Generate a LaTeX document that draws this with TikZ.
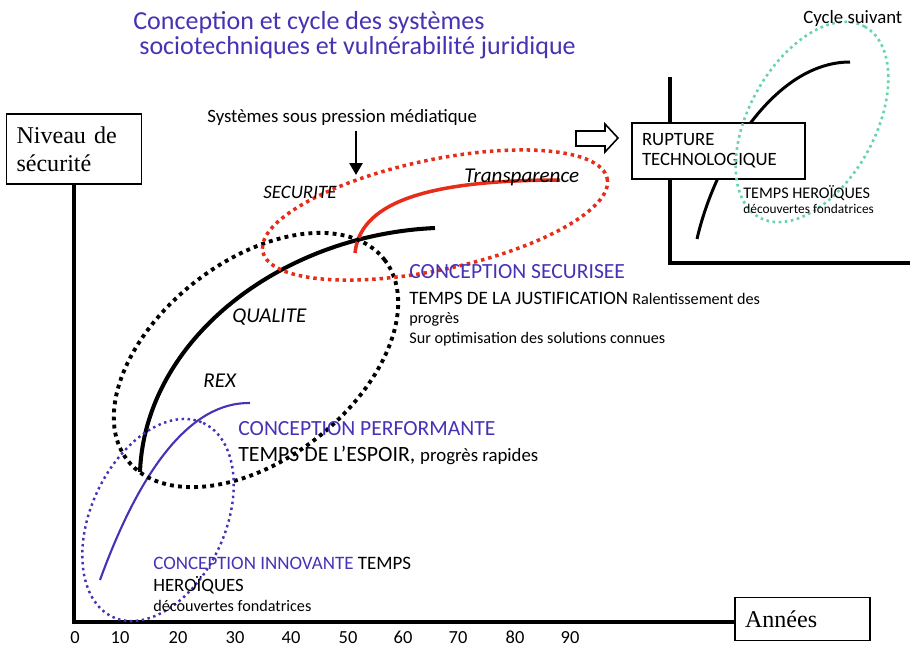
\documentclass[tikz,border=0pt]{standalone}
\usepackage{fontspec}
\setmainfont{Carlito}
\newfontfamily\timesfont{Liberation Serif}
\usepackage{xcolor}
\usetikzlibrary{arrows.meta,shapes,calc,positioning}
\definecolor{bleutitre}{RGB}{70,50,180}
\definecolor{rougevif}{RGB}{230,45,25}
\definecolor{vertclair}{RGB}{105,212,168}
\newcommand{\taille}[1]{\fontsize{#1}{1.2em}\selectfont}

\begin{document}
\begin{tikzpicture}[x=0.02cm,y=-0.02cm]
		\tikzstyle{every node}=[inner sep=0pt, anchor=base west, font=\taille{10.7}]
		\tikzstyle{boite}=[draw, line width=0.9pt, fill=white, anchor=center, align=left]
		\tikzstyle{axe}=[line width=2.3pt]
		\tikzstyle{courbe}=[line width=2.3pt]
		\tikzstyle{pointille}=[line width=2.2pt, dash pattern=on 2.2pt off 2.4pt]
		\useasboundingbox (0,0) rectangle (910,647);
		% titre
		\node [font=\taille{14.8}, text=bleutitre] (titre1) at (133,29) {Conception et cycle des systèmes};
		\node [font=\taille{14.8}, text=bleutitre] (titre2) at (139,54) {sociotechniques et vulnérabilité juridique};
		% axes principaux
		\node [boite, minimum width=2.7cm, minimum height=1.4cm, text width=2.3cm, font=\timesfont\fontsize{13.7}{15.9}\selectfont] (niveau) at (74,149) {Niveau de\\sécurité};
		\node [boite, minimum width=2.7cm, minimum height=0.86cm, text width=2.3cm, font=\timesfont\fontsize{13.7}{15.9}\selectfont] (annees) at (802.5,619) {Années};
		\coordinate (origine) at (74,622);
		\draw [axe] (niveau.south) -- (origine) -- (origine -| annees.west);
		\foreach \x/\v in {75/0,120/10,178/20,235/30,291/40,348/50,403/60,458/70,515/80,570/90}
			\node [anchor=base, font=\taille{10.5}] (g\v) at (\x,643) {\v};
		% pression mediatique
		\node (pression) at (207,122) {Systèmes sous pression médiatique};
		\coordinate (cible) at (356,175);
		\draw [line width=1.5pt, shorten <=0.12cm, -{Triangle[length=0.24cm, width=0.26cm]}] (pression.south -| cible) -- (cible);
		% cycle suivant
		\draw [line width=2pt] (670,77) -- (670,263) -- (910,263);
		\draw [line width=1.7pt] (697,239) .. controls (715,160) and (775,62) .. (850,62);
		\node [boite, minimum width=3.46cm, minimum height=1.12cm, text width=3.06cm, font=\fontsize{10.7}{11.3}\selectfont] (rupture) at (718.5,151) {RUPTURE\\TECHNOLOGIQUE};
		\draw [line width=0.9pt] (576,131) -- (605,131) -- (605,124) -- (618,138) -- (605,152) -- (605,146) -- (576,146) -- cycle;
		\draw [pointille, line width=1.5pt, dash pattern=on 1.5pt off 2pt, vertclair, rotate around={61:(812,122)}] (812,122) ellipse (109 and 63);
		\node (suivant) at (803,23) {Cycle suivant};
		\node [font=\taille{9.2}] (heros2) at (743,198) {TEMPS HEROÏQUES};
		\node [font=\taille{7.6}] (decouv2) at (743,213) {découvertes fondatrices};
		% courbes
		\draw [courbe] (140,472) .. controls (145,340) and (280,235) .. (435,228);
		\draw [courbe, line width=2pt, rougevif] (355,253) .. controls (360,205) and (420,180) .. (560,180);
		\draw [line width=1.2pt, bleutitre] (100,580) .. controls (140,470) and (190,402) .. (250,403);
		\draw [pointille, rotate around={38:(256,360)}] (256,360) ellipse (163 and 99);
		\draw [pointille, line width=2pt, dash pattern=on 2pt off 2.2pt, rougevif, rotate around={12:(435,215)}] (435,215) ellipse (176 and 55);
		\draw [pointille, line width=1.4pt, dash pattern=on 1.4pt off 2pt, bleutitre, rotate around={65:(158,520)}] (158,520) ellipse (107 and 67);
		% etiquettes
		\node [font=\taille{10.8}\itshape] (securite) at (263,198) {SECURITE};
		\node [font=\taille{12}\itshape] (transp) at (464,182) {Transparence};
		\node [font=\taille{12}\itshape] (qualite) at (232,322) {QUALITE};
		\node [font=\taille{12}\itshape] (rex) at (203,387) {REX};
		\node [font=\taille{12.3}, text=bleutitre] (cs) at (409,278) {CONCEPTION SECURISEE};
		\node [font=\taille{10.8}] (justif) at (409,304) {TEMPS DE LA JUSTIFICATION {\taille{9.2}Ralentissement des}};
		\node [font=\taille{9.2}] (progres) at (409,323) {progrès};
		\node [font=\taille{9.2}] (optim) at (409,343) {Sur optimisation des solutions connues};
		\node [font=\taille{12.3}, text=bleutitre] (cp) at (238,435) {CONCEPTION PERFORMANTE};
		\node [font=\taille{12.4}] (espoir) at (238,461) {TEMPS DE L’ESPOIR, {\taille{10.7}progrès rapides}};
		\node [font=\taille{10.8}] (ci) at (153,569) {\textcolor{bleutitre}{CONCEPTION INNOVANTE} TEMPS};
		\node [font=\taille{10.7}] (heros) at (153,591) {HEROÏQUES};
		\node [font=\taille{9.2}] (decouv) at (153,611) {découvertes fondatrices};
	\end{tikzpicture}
\end{document}
